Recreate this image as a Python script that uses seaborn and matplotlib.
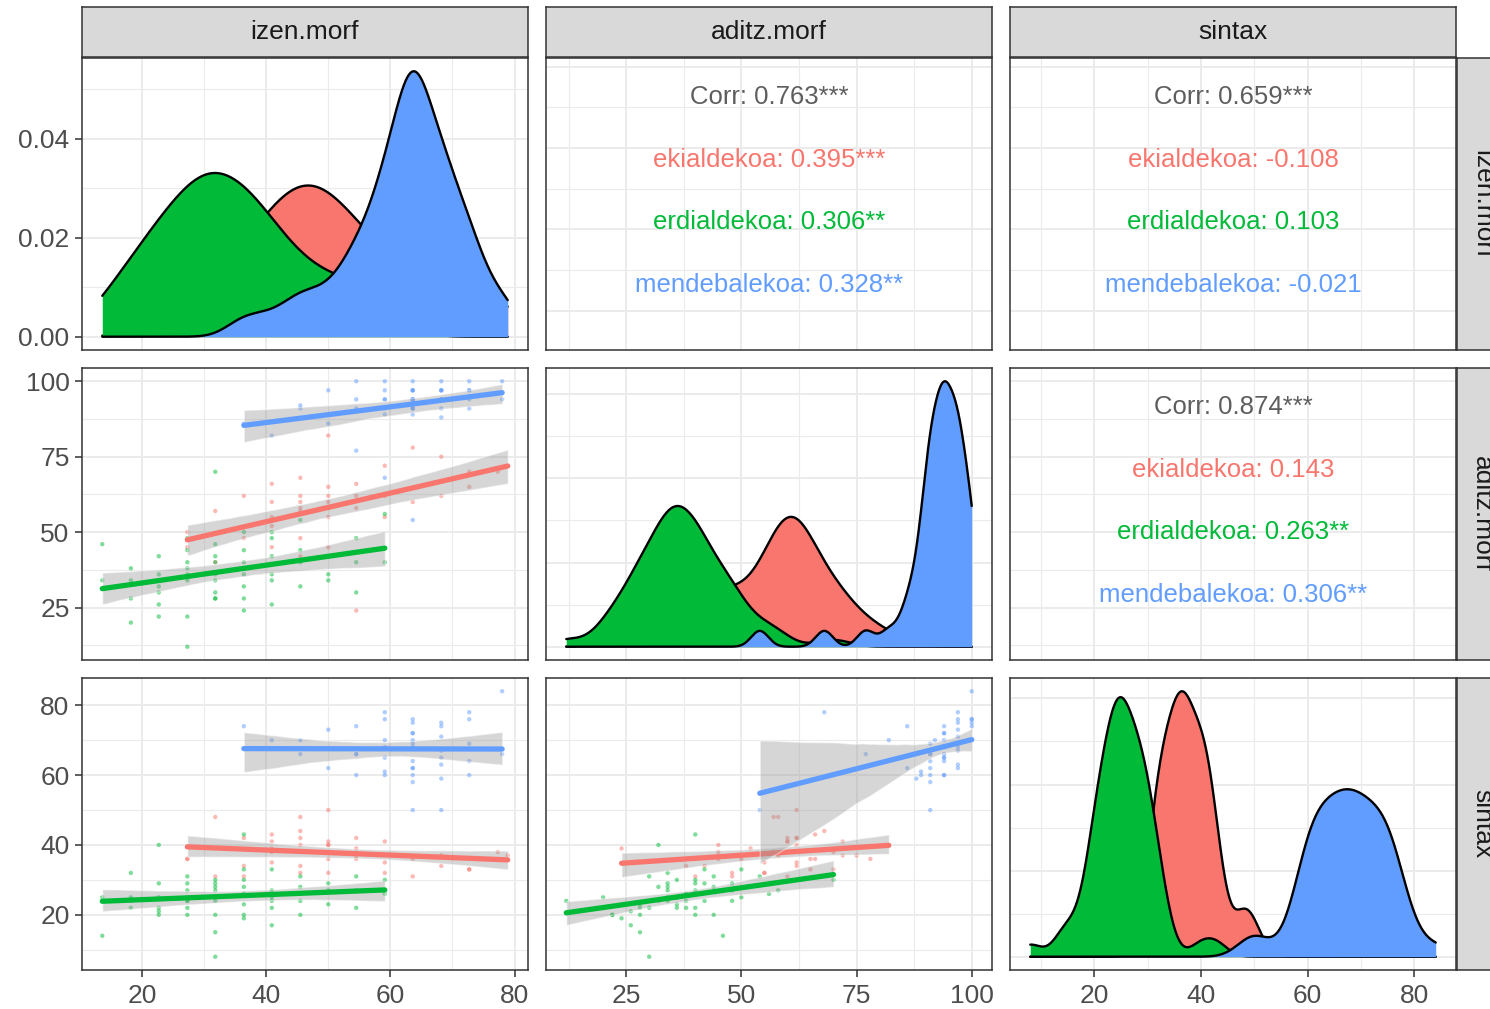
import numpy as np
import pandas as pd
import seaborn as sns
import matplotlib.pyplot as plt
from matplotlib.ticker import MultipleLocator, AutoMinorLocator, MaxNLocator, FormatStrFormatter

sns.set_theme(style="white")
plt.rcParams['font.family'] = ['Liberation Sans', 'DejaVu Sans']

variables = ["izen.morf", "aditz.morf", "sintax"]
groups = ["ekialdekoa", "erdialdekoa", "mendebalekoa"]
group_colors = ["#F8766D", "#00BA38", "#619CFF"]
major_step = [20, 25, 20]

# ekialdekoa
ekialde_izen = [27.3, 27.3, 31.8, 31.8, 36.4, 36.4, 36.4, 40.9, 40.9, 40.9, 40.9, 40.9,
                45.5, 45.5, 45.5, 45.5, 45.5, 45.5, 50.0, 50.0, 50.0, 50.0, 50.0,
                54.5, 54.5, 54.5, 54.5, 59.1, 59.1, 59.1, 63.6, 63.6, 68.2, 68.2,
                72.7, 72.7, 78.9, 77.3, 50.0, 45.5]
ekialde_aditz = [45, 50, 40, 57, 62, 48, 38, 66, 55, 60, 45, 52, 62, 57, 68, 48, 60, 42,
                 65, 82, 55, 60, 45, 62, 24, 66, 58, 62, 72, 55, 78, 60, 62, 75, 70, 65,
                 72, 70, 62, 58]
ekialde_sintax = [36, 36, 31, 48, 42, 31, 34, 43, 35, 41, 38, 39, 40, 38, 44, 32, 42, 34,
                  36, 40, 32, 41, 40, 42, 39, 36, 37, 35, 41, 32, 36, 31, 34, 37, 33, 33,
                  37, 38, 50, 48]

# erdialdekoa
erdialde_izen = [13.6, 13.6, 18.2, 18.2, 18.2, 18.2,
                 22.7, 22.7, 22.7, 22.7, 22.7, 22.7,
                 27.3, 27.3, 27.3, 27.3, 27.3, 27.3, 27.3, 27.3,
                 31.8, 31.8, 31.8, 31.8, 31.8, 31.8, 31.8, 31.8, 31.8,
                 36.4, 36.4, 36.4, 36.4, 36.4, 36.4, 36.4, 36.4,
                 40.9, 40.9, 40.9, 40.9, 40.9, 40.9,
                 45.5, 45.5, 45.5, 45.5, 50.0, 50.0, 50.0, 54.5, 54.5, 54.5, 59.1, 59.1]
erdialde_aditz = [46, 34, 34, 20, 38, 28, 42, 26, 32, 22, 36, 30,
                  48, 40, 12, 34, 22, 44, 36, 38,
                  70, 46, 36, 28, 40, 30, 42, 34, 28,
                  50, 38, 28, 44, 32, 24, 40, 36,
                  48, 34, 26, 42, 36, 50,
                  54, 32, 40, 44, 58, 36, 34, 48, 40, 30, 56, 40]
erdialde_sintax = [14, 25, 32, 25, 24, 22, 29, 21, 40, 20, 25, 22,
                   29, 27, 24, 24, 20, 31, 25, 22,
                   30, 27, 25, 15, 29, 8, 24, 28, 20,
                   33, 26, 23, 20, 28, 19, 43, 30,
                   24, 27, 17, 33, 22, 25,
                   31, 24, 20, 28, 27, 23, 29, 27, 22, 31, 26, 30]

# mendebalekoa
mendebal_izen = [36.4, 40.9, 45.5, 45.5, 50.0, 50.0,
                 54.5, 54.5, 54.5, 54.5,
                 59.1, 59.1, 59.1, 59.1, 59.1, 59.1, 59.1,
                 63.6, 63.6, 63.6, 63.6, 63.6, 63.6, 63.6, 63.6, 63.6, 63.6, 63.6, 63.6, 63.6,
                 68.2, 68.2, 68.2, 68.2, 68.2, 68.2, 68.2, 68.2,
                 72.7, 72.7, 72.7, 72.7, 72.7, 78.0, 78.0]
mendebal_aditz = [86, 82, 92, 91, 97, 86,
                  100, 91, 94, 77,
                  100, 94, 91, 97, 89, 94, 68,
                  100, 94, 97, 94, 94, 91, 97, 89, 54, 91, 97, 91, 94,
                  100, 97, 94, 91, 97, 94, 97, 88,
                  100, 97, 94, 91, 97, 100, 94]
mendebal_sintax = [74, 70, 70, 66, 73, 62,
                   74, 66, 60, 66,
                   70, 65, 60, 76, 61, 68, 78,
                   76, 72, 68, 64, 70, 62, 75, 60, 50, 69, 62, 58, 72,
                   75, 71, 65, 50, 67, 74, 63, 59,
                   76, 69, 60, 64, 78, 84, 66]

# correlation labels for the upper panels: (izen,aditz), (izen,sintax), (aditz,sintax)
upper_pairs = [(0, 1), (0, 2), (1, 2)]
corr_total = ["0.763***", "0.659***", "0.874***"]
corr_ekialde = ["0.395***", "-0.108", "0.143"]
corr_erdialde = ["0.306**", "0.103", "0.263**"]
corr_mendebal = ["0.328**", "-0.021", "0.306**"]

df = pd.DataFrame({
    "izen.morf": ekialde_izen + erdialde_izen + mendebal_izen,
    "aditz.morf": ekialde_aditz + erdialde_aditz + mendebal_aditz,
    "sintax": ekialde_sintax + erdialde_sintax + mendebal_sintax,
    "group": [groups[0]] * len(ekialde_izen) + [groups[1]] * len(erdialde_izen)
             + [groups[2]] * len(mendebal_izen),
})

W, H = 1490, 1009
col_left = [82, 546, 1010]
row_top = [58, 368, 678]
pw, ph = 446, 292


def frac(x, y, w, h):
    return [x / W, 1 - (y + h) / H, w / W, h / H]


def nrd0(kde):
    # R's bw.nrd0, expressed as a scipy bandwidth factor
    x = kde.dataset[0]
    sd = np.std(x, ddof=1)
    q75, q25 = np.percentile(x, [75, 25])
    return 0.9 * min(sd, (q75 - q25) / 1.34) * len(x) ** -0.2 / sd


lims = {}
for v in variables:
    lo, hi = df[v].min(), df[v].max()
    lims[v] = (lo - 0.05 * (hi - lo), hi + 0.05 * (hi - lo))

fig = plt.figure(figsize=(14.9, 10.09), dpi=100)
axes = [[fig.add_axes(frac(col_left[j], row_top[i], pw, ph)) for j in range(3)] for i in range(3)]

# diagonal: densities, each group fill + outline drawn in turn
for i, v in enumerate(variables):
    ax = axes[i][i]
    clip = (df[v].min(), df[v].max())
    for k, (g, c) in enumerate(zip(groups, group_colors)):
        sub = df[df.group == g]
        sns.kdeplot(data=sub, x=v, ax=ax, fill=True, color=c, alpha=1, linewidth=0,
                    bw_method=nrd0, cut=100, clip=clip, gridsize=512, zorder=1.0 + 0.2 * k)
        sns.kdeplot(data=sub, x=v, ax=ax, color="black", linewidth=1.7,
                    bw_method=nrd0, cut=100, clip=clip, gridsize=512, zorder=1.1 + 0.2 * k)
    top = max(l.get_ydata().max() for l in ax.get_lines())
    ax.set_ylim(-0.05 * top, 1.05 * top)

# lower: scatter + lm
for i, j in [(1, 0), (2, 0), (2, 1)]:
    ax = axes[i][j]
    xv, yv = variables[j], variables[i]
    sns.scatterplot(data=df, x=xv, y=yv, hue="group", hue_order=groups, palette=group_colors,
                    s=10, alpha=0.5, linewidth=0, legend=False, ax=ax, zorder=1)
    for k, (g, c) in enumerate(zip(groups, group_colors)):
        sub = df[df.group == g]
        sns.regplot(data=sub, x=xv, y=yv, scatter=False, color=c, ci=95, seed=1,
                    line_kws={"lw": 3.8, "zorder": 1.2 + 0.2 * k}, ax=ax)
        band = ax.collections[-1]
        band.set_facecolor((0.6, 0.6, 0.6))
        band.set_alpha(0.4)
        band.set_zorder(1.1 + 0.2 * k)
    ax.set_ylim(lims[yv])

# upper: correlation text
for k, (i, j) in enumerate(upper_pairs):
    ax = axes[i][j]
    ax.set_ylim(lims[variables[i]])
    ax.text(0.5, 0.866, "Corr: " + corr_total[k], transform=ax.transAxes,
            ha="center", va="center", fontsize=18.5, color="#5E5E5E")
    for n, (g, c, vals) in enumerate(zip(groups, group_colors,
                                         [corr_ekialde, corr_erdialde, corr_mendebal])):
        ax.text(0.5, 0.651 - n * 0.214, g + ": " + vals[k], transform=ax.transAxes,
                ha="center", va="center", fontsize=18.5, color=c)

# axes styling
for i in range(3):
    for j in range(3):
        ax = axes[i][j]
        xv, yv = variables[j], variables[i]
        ax.set_xlim(lims[xv])
        ax.set_xlabel("")
        ax.set_ylabel("")
        ax.xaxis.set_major_locator(MultipleLocator(major_step[j]))
        ax.xaxis.set_minor_locator(AutoMinorLocator(2))
        if i == j:
            if i == 0:
                ax.yaxis.set_major_locator(MultipleLocator(0.02))
                ax.yaxis.set_major_formatter(FormatStrFormatter("%.2f"))
            else:
                ax.yaxis.set_major_locator(MaxNLocator(4))
        else:
            ax.yaxis.set_major_locator(MultipleLocator(major_step[i]))
        ax.yaxis.set_minor_locator(AutoMinorLocator(2))
        ax.set_facecolor("white")
        ax.set_axisbelow(True)
        ax.grid(which="major", color="#EBEBEB", linewidth=1.4)
        ax.grid(which="minor", color="#EBEBEB", linewidth=0.8)
        for s in ax.spines.values():
            s.set_color("#333333")
            s.set_linewidth(1.1)
            s.set_visible(True)
        ax.tick_params(which="both", length=0, labelleft=False, labelbottom=False)
        if j == 0:
            ax.tick_params(axis="y", which="major", left=True, length=5, width=1.1,
                           color="#333333", labelleft=True, labelsize=19,
                           labelcolor="#4D4D4D", pad=4)
        if i == 2:
            ax.tick_params(axis="x", which="major", bottom=True, length=5, width=1.1,
                           color="#333333", labelbottom=True, labelsize=19,
                           labelcolor="#4D4D4D", pad=5)

# strips
for j, v in enumerate(variables):
    sax = fig.add_axes(frac(col_left[j], 7, pw, 50))
    sax.set_facecolor("#D9D9D9")
    sax.set_xticks([])
    sax.set_yticks([])
    for s in sax.spines.values():
        s.set_color("#333333")
        s.set_linewidth(1.1)
    sax.text(0.5, 0.5, v, transform=sax.transAxes, ha="center", va="center",
             fontsize=19, color="#1A1A1A")
for i, v in enumerate(variables):
    sax = fig.add_axes(frac(1457, row_top[i], 50, ph))
    sax.set_facecolor("#D9D9D9")
    sax.set_xticks([])
    sax.set_yticks([])
    for s in sax.spines.values():
        s.set_color("#333333")
        s.set_linewidth(1.1)
    sax.text(0.5, 0.5, v, transform=sax.transAxes, ha="center", va="center",
             rotation=-90, fontsize=19, color="#1A1A1A")

fig.savefig("out.png", dpi=100)
